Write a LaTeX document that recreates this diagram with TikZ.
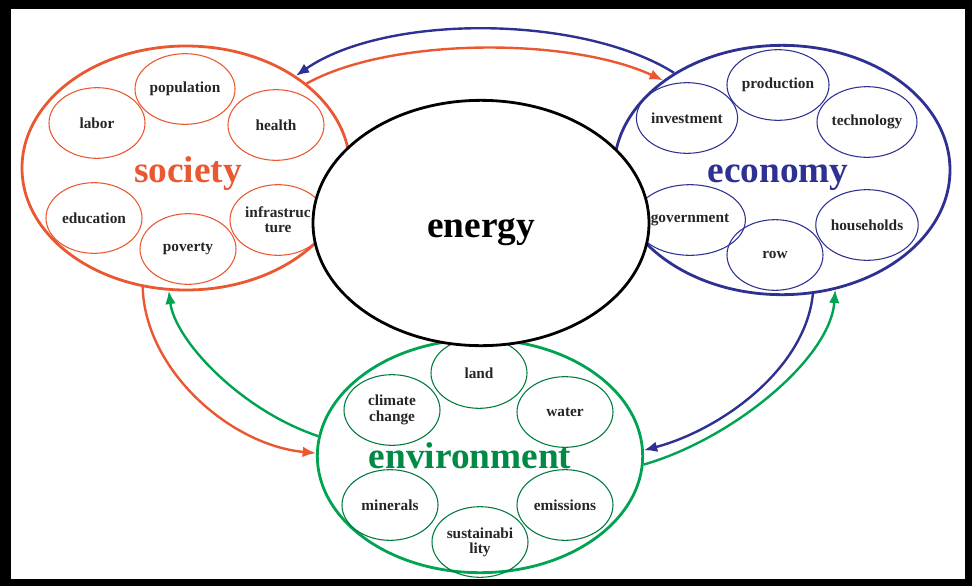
\documentclass[tikz,border=0pt]{standalone}
\usepackage{fontspec}
\setmainfont{Liberation Serif}
\usepackage{tikz}
\usetikzlibrary{shapes.geometric,arrows.meta}

\definecolor{socred}{RGB}{234,88,50}
\definecolor{econblue}{RGB}{46,49,146}
\definecolor{envgreen}{RGB}{0,163,82}

\tikzset{
  sphere/.style={ellipse, draw, line width=2.1pt, inner sep=0pt},
  bigtext/.style={anchor=base, inner sep=0pt,
    font=\fontsize{28}{30}\selectfont\bfseries},
  topic/.style={ellipse, draw, line width=0.8pt, inner sep=0pt,
    minimum width=72pt, minimum height=53pt, align=center,
    text=black!85, font=\fontsize{11.5}{11.5}\selectfont\bfseries},
  flow/.style={line width=1.8pt, -{Latex[length=10pt,width=8pt]}}
}

\begin{document}
\begin{tikzpicture}[x=0.75pt,y=0.75pt,yscale=-1,xscale=1]
%frame
\fill[black] (0,0) rectangle (972,586);
\fill[white] (11,9) rectangle (965,579);

%Society
\node [sphere, socred, minimum width=246pt, minimum height=183pt] (soc) at (186,168) {};
\node [bigtext, text=socred] (soclbl) at (188,182) {society};
\node [topic, socred] (pop) at (185,89) {\color{black!85}population};
\node [topic, socred] (lab) at (97,123) {\color{black!85}labor};
\node [topic, socred] (hea) at (276,125) {\color{black!85}health};
\node [topic, socred] (edu) at (94,218) {\color{black!85}education};
\node [topic, socred] (pov) at (188,249) {\color{black!85}poverty};
\node [topic, socred] (inf) at (278,220) {\color{black!85}infrastruc\\\color{black!85}ture};

%Economy
\node [sphere, econblue, minimum width=252pt, minimum height=187pt] (eco) at (782,170) {};
\node [bigtext, text=econblue] (ecolbl) at (778,182) {economy};
\node [topic, econblue] (prd) at (778,85) {\color{black!85}production};
\node [topic, econblue] (inv) at (687,118) {\color{black!85}investment};
\node [topic, econblue] (tec) at (867,122) {\color{black!85}technology};
\node [topic, econblue] (gov) at (690,220) {\color{black!85}government};
\node [topic, econblue] (row) at (775,255) {\color{black!85}row};
\node [topic, econblue] (hou) at (867,225) {\color{black!85}households};

%Environment
\node [sphere, envgreen, minimum width=244pt, minimum height=175pt] (env) at (480,456) {};
\node [bigtext, text=envgreen!85!black] (envlbl) at (470,468) {environment};
\node [topic, envgreen!75!black] (lnd) at (479,373) {\color{black!85}land};
\node [topic, envgreen!75!black] (cli) at (392,410) {\color{black!85}climate\\\color{black!85}change};
\node [topic, envgreen!75!black] (wat) at (565,412) {\color{black!85}water};
\node [topic, envgreen!75!black] (min) at (390,505) {\color{black!85}minerals};
\node [topic, envgreen!75!black] (emi) at (565,505) {\color{black!85}emissions};
\node [topic, envgreen!75!black] (sus) at (480,542) {\color{black!85}sustainabi\\\color{black!85}lity};

%flows society <-> economy
\draw [flow, econblue] (eco.138) .. controls (580,14) and (385,14) .. (soc.40);
\draw [flow, socred] (soc.35) .. controls (390,37) and (570,37) .. (eco.143.6);

%flows society <-> environment
\draw [flow, socred] (soc.250) .. controls (145,370) and (230,445) .. (env.179);
\draw [flow, envgreen] (env.173) .. controls (240,410) and (175,340) .. (soc.262);

%flows economy <-> environment
\draw [flow, econblue] (eco.284) .. controls (805,370) and (720,430) .. (env.2);
\draw [flow, envgreen] (env.357) .. controls (730,440) and (830,360) .. (eco.294);

%Energy
\node [sphere, black, fill=white, minimum width=252pt, minimum height=184pt] (ene) at (481,223) {};
\node [bigtext, text=black] (enelbl) at (481,237) {energy};

\end{tikzpicture}
\end{document}
